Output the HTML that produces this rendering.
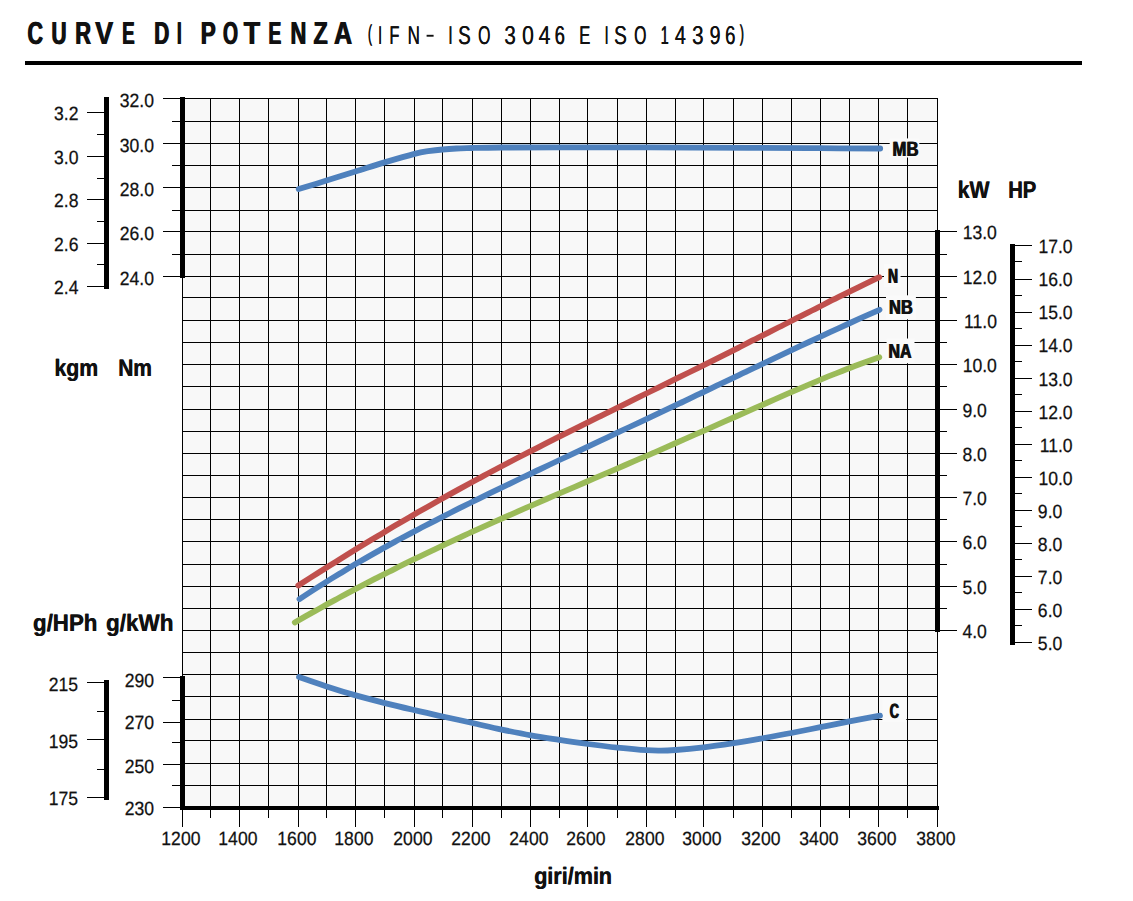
<!DOCTYPE html>
<html><head><meta charset="utf-8"><title>Curve di potenza</title>
<style>
html,body{margin:0;padding:0;background:#fff;}
body{width:1133px;height:901px;overflow:hidden;}
svg{display:block;font-family:"Liberation Sans",sans-serif;}
</style></head><body>
<svg width="1133" height="901" viewBox="0 0 1133 901" text-rendering="geometricPrecision">
<rect x="182" y="98" width="756" height="710" fill="#f8f8f8"/>
<g fill="#000" shape-rendering="crispEdges"><rect x="182" y="98" width="1" height="729"/><rect x="210" y="98" width="1" height="720"/><rect x="239" y="98" width="1" height="729"/><rect x="268" y="98" width="1" height="720"/><rect x="298" y="98" width="1" height="729"/><rect x="326" y="98" width="1" height="720"/><rect x="355" y="98" width="1" height="729"/><rect x="384" y="98" width="1" height="720"/><rect x="414" y="98" width="1" height="729"/><rect x="442" y="98" width="1" height="720"/><rect x="472" y="98" width="1" height="729"/><rect x="501" y="98" width="1" height="720"/><rect x="530" y="98" width="1" height="729"/><rect x="559" y="98" width="1" height="720"/><rect x="587" y="98" width="1" height="729"/><rect x="617" y="98" width="1" height="720"/><rect x="646" y="98" width="1" height="729"/><rect x="675" y="98" width="1" height="720"/><rect x="703" y="98" width="1" height="729"/><rect x="733" y="98" width="1" height="720"/><rect x="762" y="98" width="1" height="729"/><rect x="791" y="98" width="1" height="720"/><rect x="820" y="98" width="1" height="729"/><rect x="849" y="98" width="1" height="720"/><rect x="878" y="98" width="1" height="729"/><rect x="907" y="98" width="1" height="720"/><rect x="937" y="98" width="1" height="729"/><rect x="182" y="98" width="756" height="1"/><rect x="182" y="121" width="756" height="1"/><rect x="182" y="143" width="756" height="1"/><rect x="182" y="165" width="756" height="1"/><rect x="182" y="187" width="756" height="1"/><rect x="182" y="210" width="756" height="1"/><rect x="182" y="231" width="756" height="1"/><rect x="182" y="254" width="756" height="1"/><rect x="182" y="276" width="756" height="1"/><rect x="182" y="297" width="756" height="1"/><rect x="182" y="320" width="756" height="1"/><rect x="182" y="342" width="756" height="1"/><rect x="182" y="364" width="756" height="1"/><rect x="182" y="386" width="756" height="1"/><rect x="182" y="409" width="756" height="1"/><rect x="182" y="431" width="756" height="1"/><rect x="182" y="453" width="756" height="1"/><rect x="182" y="475" width="756" height="1"/><rect x="182" y="497" width="756" height="1"/><rect x="182" y="519" width="756" height="1"/><rect x="182" y="541" width="756" height="1"/><rect x="182" y="564" width="756" height="1"/><rect x="182" y="586" width="756" height="1"/><rect x="182" y="608" width="756" height="1"/><rect x="182" y="630" width="756" height="1"/><rect x="182" y="652" width="756" height="1"/><rect x="182" y="674" width="756" height="1"/><rect x="182" y="696" width="756" height="1"/><rect x="182" y="719" width="756" height="1"/><rect x="182" y="740" width="756" height="1"/><rect x="182" y="763" width="756" height="1"/><rect x="182" y="785" width="756" height="1"/><rect x="182" y="807" width="756" height="1"/><rect x="163" y="98" width="19" height="1"/><rect x="172" y="121" width="10" height="1"/><rect x="163" y="143" width="19" height="1"/><rect x="172" y="165" width="10" height="1"/><rect x="163" y="187" width="19" height="1"/><rect x="172" y="210" width="10" height="1"/><rect x="163" y="231" width="19" height="1"/><rect x="172" y="254" width="10" height="1"/><rect x="163" y="276" width="19" height="1"/><rect x="163" y="677" width="19" height="1"/><rect x="172" y="700" width="10" height="1"/><rect x="163" y="722" width="19" height="1"/><rect x="172" y="742" width="10" height="1"/><rect x="163" y="764" width="19" height="1"/><rect x="172" y="785" width="10" height="1"/><rect x="163" y="807" width="19" height="1"/><rect x="87" y="112" width="19" height="1"/><rect x="97" y="134" width="9" height="1"/><rect x="87" y="156" width="19" height="1"/><rect x="97" y="178" width="9" height="1"/><rect x="87" y="199" width="19" height="1"/><rect x="97" y="221" width="9" height="1"/><rect x="87" y="243" width="19" height="1"/><rect x="97" y="264" width="9" height="1"/><rect x="87" y="286" width="19" height="1"/><rect x="87" y="682" width="19" height="1"/><rect x="97" y="711" width="9" height="1"/><rect x="87" y="739" width="19" height="1"/><rect x="97" y="769" width="9" height="1"/><rect x="87" y="797" width="19" height="1"/><rect x="938" y="231" width="19" height="1"/><rect x="938" y="254" width="9" height="1"/><rect x="938" y="276" width="19" height="1"/><rect x="938" y="297" width="9" height="1"/><rect x="938" y="320" width="19" height="1"/><rect x="938" y="342" width="9" height="1"/><rect x="938" y="364" width="19" height="1"/><rect x="938" y="386" width="9" height="1"/><rect x="938" y="409" width="19" height="1"/><rect x="938" y="431" width="9" height="1"/><rect x="938" y="453" width="19" height="1"/><rect x="938" y="475" width="9" height="1"/><rect x="938" y="497" width="19" height="1"/><rect x="938" y="519" width="9" height="1"/><rect x="938" y="541" width="19" height="1"/><rect x="938" y="564" width="9" height="1"/><rect x="938" y="586" width="19" height="1"/><rect x="938" y="608" width="9" height="1"/><rect x="938" y="630" width="19" height="1"/><rect x="1012" y="245" width="20" height="1"/><rect x="1012" y="261" width="10" height="1"/><rect x="1012" y="279" width="20" height="1"/><rect x="1012" y="295" width="10" height="1"/><rect x="1012" y="312" width="20" height="1"/><rect x="1012" y="328" width="10" height="1"/><rect x="1012" y="345" width="20" height="1"/><rect x="1012" y="361" width="10" height="1"/><rect x="1012" y="378" width="20" height="1"/><rect x="1012" y="394" width="10" height="1"/><rect x="1012" y="411" width="20" height="1"/><rect x="1012" y="427" width="10" height="1"/><rect x="1012" y="444" width="20" height="1"/><rect x="1012" y="460" width="10" height="1"/><rect x="1012" y="477" width="20" height="1"/><rect x="1012" y="493" width="10" height="1"/><rect x="1012" y="510" width="20" height="1"/><rect x="1012" y="526" width="10" height="1"/><rect x="1012" y="543" width="20" height="1"/><rect x="1012" y="559" width="10" height="1"/><rect x="1012" y="576" width="20" height="1"/><rect x="1012" y="592" width="10" height="1"/><rect x="1012" y="609" width="20" height="1"/><rect x="1012" y="625" width="10" height="1"/><rect x="1012" y="642" width="20" height="1"/><rect x="180" y="97" width="5" height="181"/><rect x="180" y="676" width="5" height="134"/><rect x="180" y="806" width="759" height="4"/><rect x="104" y="97" width="5" height="192"/><rect x="104" y="680" width="5" height="120"/><rect x="935" y="230" width="5" height="402"/><rect x="1010" y="244" width="5" height="401"/><rect x="25" y="61" width="1057" height="4"/></g>
<rect x="889.7" y="138.4" width="29.6" height="19.1" fill="#fafafa"/>
<rect x="884" y="264" width="16.6" height="23.0" fill="#fafafa"/>
<rect x="886" y="295.3" width="29.9" height="24.0" fill="#fafafa"/>
<rect x="886.6" y="338.5" width="27.9" height="24.7" fill="#fafafa"/>
<rect x="882.4" y="698" width="23.9" height="24.0" fill="#fafafa"/>
<path d="M298.7 189.1C303.3 187.7 317.1 183.5 326.5 180.6C335.9 177.7 345.7 174.6 355.4 171.6C365.1 168.6 374.6 165.3 384.5 162.4C394.4 159.5 407.2 155.8 414.5 153.9C421.8 152.0 423.4 151.9 428.1 151.2C432.8 150.5 437.8 149.9 442.5 149.5C447.2 149.1 451.5 148.8 456.5 148.5C461.5 148.2 465.1 148.2 472.6 148.0C480.1 147.8 487.0 147.6 501.6 147.5C516.2 147.4 535.3 147.4 560.0 147.4C584.7 147.4 618.3 147.3 650.0 147.4C681.7 147.5 721.7 147.7 750.0 147.8C778.3 147.9 798.3 148.1 820.0 148.2C841.7 148.3 870.2 148.4 880.2 148.5" stroke="#4f81bd" stroke-width="5.8" fill="none" stroke-linecap="round" stroke-linejoin="round"/>
<path d="M298.3 585.5C301.6 583.4 311.6 577.0 318.3 572.7C325.0 568.5 331.6 564.3 338.3 560.2C345.0 556.0 351.6 551.9 358.3 547.8C365.0 543.7 371.6 539.7 378.3 535.7C385.0 531.7 391.6 527.7 398.3 523.8C405.0 519.9 411.6 516.0 418.3 512.1C425.0 508.3 431.6 504.5 438.3 500.7C445.0 497.0 451.6 493.3 458.3 489.6C465.0 485.9 471.6 482.3 478.3 478.7C485.0 475.1 491.6 471.5 498.3 468.0C505.0 464.5 511.6 461.0 518.3 457.5C525.0 454.1 531.6 450.7 538.3 447.3C545.0 443.8 551.6 440.5 558.3 437.1C565.0 433.7 571.6 430.4 578.3 427.1C585.0 423.8 591.6 420.5 598.3 417.2C605.0 413.8 611.6 410.6 618.3 407.3C625.0 404.0 631.6 400.7 638.3 397.4C645.0 394.1 651.6 390.9 658.3 387.6C665.0 384.3 671.6 381.0 678.3 377.7C685.0 374.4 691.6 371.1 698.3 367.8C705.0 364.5 711.6 361.1 718.3 357.8C725.0 354.5 731.6 351.1 738.3 347.8C745.0 344.4 751.6 341.0 758.3 337.7C765.0 334.3 771.6 330.9 778.3 327.5C785.0 324.2 791.6 320.8 798.3 317.4C805.0 314.0 811.6 310.6 818.3 307.3C825.0 303.9 831.6 300.5 838.3 297.2C845.0 293.9 851.5 290.7 858.3 287.3C865.1 284.0 875.8 278.9 879.3 277.2" stroke="#c0504d" stroke-width="5.8" fill="none" stroke-linecap="round" stroke-linejoin="round"/>
<path d="M299.5 599.1C302.8 596.9 312.8 590.3 319.5 586.1C326.2 581.9 332.8 577.8 339.5 573.7C346.2 569.7 352.8 565.7 359.5 561.8C366.2 557.9 372.8 554.1 379.5 550.4C386.2 546.6 392.8 543.0 399.5 539.3C406.2 535.7 412.8 532.2 419.5 528.7C426.2 525.2 432.8 521.7 439.5 518.3C446.2 514.9 452.8 511.6 459.5 508.2C466.2 504.9 472.8 501.6 479.5 498.3C486.2 495.1 492.8 491.8 499.5 488.6C506.2 485.4 512.8 482.2 519.5 479.0C526.2 475.8 532.8 472.6 539.5 469.5C546.2 466.3 552.8 463.2 559.5 460.0C566.2 456.9 572.8 453.7 579.5 450.6C586.2 447.4 592.8 444.3 599.5 441.1C606.2 438.0 612.8 434.9 619.5 431.7C626.2 428.6 632.8 425.4 639.5 422.3C646.2 419.1 652.8 416.0 659.5 412.8C666.2 409.7 672.8 406.5 679.5 403.4C686.2 400.2 692.8 397.0 699.5 393.9C706.2 390.7 712.8 387.5 719.5 384.4C726.2 381.2 732.8 378.0 739.5 374.8C746.2 371.7 752.8 368.5 759.5 365.3C766.2 362.2 772.8 359.0 779.5 355.9C786.2 352.7 792.8 349.6 799.5 346.4C806.2 343.3 812.8 340.2 819.5 337.1C826.2 334.0 832.8 330.9 839.5 327.8C846.2 324.8 852.8 321.7 859.5 318.7C866.2 315.7 876.2 311.3 879.5 309.8" stroke="#4f81bd" stroke-width="5.8" fill="none" stroke-linecap="round" stroke-linejoin="round"/>
<path d="M294.8 622.4C298.1 620.5 308.1 614.8 314.8 611.1C321.5 607.4 328.1 603.7 334.8 600.1C341.5 596.5 348.1 592.9 354.8 589.4C361.5 585.9 368.1 582.4 374.8 578.9C381.5 575.5 388.1 572.1 394.8 568.8C401.5 565.4 408.1 562.1 414.8 558.9C421.5 555.6 428.1 552.4 434.8 549.3C441.5 546.1 448.1 543.0 454.8 539.9C461.5 536.8 468.1 533.7 474.8 530.7C481.5 527.7 488.1 524.7 494.8 521.7C501.5 518.7 508.1 515.8 514.8 512.8C521.5 509.9 528.1 507.0 534.8 504.1C541.5 501.2 548.1 498.3 554.8 495.4C561.5 492.5 568.1 489.7 574.8 486.8C581.5 483.9 588.1 481.1 594.8 478.2C601.5 475.3 608.1 472.5 614.8 469.6C621.5 466.7 628.1 463.8 634.8 460.9C641.5 458.1 648.1 455.2 654.8 452.3C661.5 449.3 668.1 446.4 674.8 443.5C681.5 440.6 688.1 437.7 694.8 434.7C701.5 431.8 708.1 428.8 714.8 425.9C721.5 422.9 728.1 420.0 734.8 417.0C741.5 414.1 748.1 411.1 754.8 408.2C761.5 405.2 768.1 402.3 774.8 399.4C781.5 396.4 788.1 393.5 794.8 390.6C801.5 387.8 808.1 384.9 814.8 382.1C821.5 379.3 828.1 376.5 834.8 373.9C841.5 371.2 847.4 368.8 854.8 366.0C862.2 363.3 875.2 358.7 879.3 357.2" stroke="#9bbb59" stroke-width="5.8" fill="none" stroke-linecap="round" stroke-linejoin="round"/>
<path d="M299.0 677.0C303.6 678.6 317.2 683.3 326.6 686.4C336.1 689.5 346.0 692.6 355.7 695.4C365.4 698.2 375.1 700.6 384.9 703.1C394.7 705.6 404.8 707.9 414.4 710.1C424.0 712.3 433.0 714.4 442.7 716.5C452.4 718.6 462.8 720.8 472.6 723.0C482.4 725.2 492.0 727.6 501.7 729.6C511.4 731.6 521.2 733.6 530.8 735.3C540.4 737.0 549.8 738.4 559.3 739.9C568.8 741.4 578.0 742.7 587.7 744.0C597.4 745.3 607.8 746.6 617.6 747.6C627.4 748.6 639.3 749.7 646.5 750.2C653.7 750.7 656.1 750.6 660.9 750.6C665.7 750.6 668.3 750.5 675.4 750.0C682.5 749.5 693.9 748.5 703.6 747.4C713.3 746.3 723.8 744.7 733.6 743.2C743.4 741.7 752.9 740.0 762.5 738.3C772.1 736.6 781.6 734.9 791.3 733.0C800.9 731.1 810.7 729.1 820.4 727.2C830.1 725.3 839.6 723.3 849.5 721.4C859.4 719.5 874.9 716.7 880.0 715.7" stroke="#4f81bd" stroke-width="5.8" fill="none" stroke-linecap="round" stroke-linejoin="round"/>
<text transform="translate(892.10,155.70) scale(0.8013,1)" font-size="20.78" font-weight="700" fill="#111">MB</text>
<text transform="translate(893.10,155.70) scale(0.8013,1)" font-size="20.78" font-weight="700" fill="#111">MB</text>
<text transform="translate(887.60,282.50) scale(0.6711,1)" font-size="20.64" font-weight="700" fill="#111">N</text>
<text transform="translate(888.60,282.50) scale(0.6711,1)" font-size="20.64" font-weight="700" fill="#111">N</text>
<text transform="translate(888.60,313.60) scale(0.8032,1)" font-size="20.35" font-weight="700" fill="#111">NB</text>
<text transform="translate(889.60,313.60) scale(0.8032,1)" font-size="20.35" font-weight="700" fill="#111">NB</text>
<text transform="translate(887.90,357.70) scale(0.7827,1)" font-size="20.35" font-weight="700" fill="#111">NA</text>
<text transform="translate(888.90,357.70) scale(0.7827,1)" font-size="20.35" font-weight="700" fill="#111">NA</text>
<text transform="translate(889.30,717.50) scale(0.6174,1)" font-size="20.64" font-weight="700" fill="#111">C</text>
<text transform="translate(890.30,717.50) scale(0.6174,1)" font-size="20.64" font-weight="700" fill="#111">C</text>
<text transform="translate(27.10,43.90) scale(0.6744,1)" font-size="31.83" font-weight="700" fill="#111">C</text>
<text transform="translate(28.00,43.90) scale(0.6744,1)" font-size="31.83" font-weight="700" fill="#111">C</text>
<text transform="translate(51.00,43.90) scale(0.6527,1)" font-size="31.83" font-weight="700" fill="#111">U</text>
<text transform="translate(51.90,43.90) scale(0.6527,1)" font-size="31.83" font-weight="700" fill="#111">U</text>
<text transform="translate(74.80,43.90) scale(0.6875,1)" font-size="31.83" font-weight="700" fill="#111">R</text>
<text transform="translate(75.70,43.90) scale(0.6875,1)" font-size="31.83" font-weight="700" fill="#111">R</text>
<text transform="translate(94.70,43.90) scale(0.8525,1)" font-size="31.83" font-weight="700" fill="#111">V</text>
<text transform="translate(95.60,43.90) scale(0.8525,1)" font-size="31.83" font-weight="700" fill="#111">V</text>
<text transform="translate(121.70,43.90) scale(0.5935,1)" font-size="31.83" font-weight="700" fill="#111">E</text>
<text transform="translate(122.60,43.90) scale(0.5935,1)" font-size="31.83" font-weight="700" fill="#111">E</text>
<text transform="translate(153.80,43.90) scale(0.6527,1)" font-size="31.83" font-weight="700" fill="#111">D</text>
<text transform="translate(154.70,43.90) scale(0.6527,1)" font-size="31.83" font-weight="700" fill="#111">D</text>
<text transform="translate(176.42,43.90) scale(0.5500,1)" font-size="31.83" font-weight="700" fill="#111">I</text>
<text transform="translate(177.32,43.90) scale(0.5500,1)" font-size="31.83" font-weight="700" fill="#111">I</text>
<text transform="translate(200.30,43.90) scale(0.7065,1)" font-size="31.83" font-weight="700" fill="#111">P</text>
<text transform="translate(201.20,43.90) scale(0.7065,1)" font-size="31.83" font-weight="700" fill="#111">P</text>
<text transform="translate(222.60,43.90) scale(0.6057,1)" font-size="31.83" font-weight="700" fill="#111">O</text>
<text transform="translate(223.50,43.90) scale(0.6057,1)" font-size="31.83" font-weight="700" fill="#111">O</text>
<text transform="translate(243.20,43.90) scale(0.8535,1)" font-size="31.83" font-weight="700" fill="#111">T</text>
<text transform="translate(244.10,43.90) scale(0.8535,1)" font-size="31.83" font-weight="700" fill="#111">T</text>
<text transform="translate(267.90,43.90) scale(0.6123,1)" font-size="31.83" font-weight="700" fill="#111">E</text>
<text transform="translate(268.80,43.90) scale(0.6123,1)" font-size="31.83" font-weight="700" fill="#111">E</text>
<text transform="translate(290.10,43.90) scale(0.6875,1)" font-size="31.83" font-weight="700" fill="#111">N</text>
<text transform="translate(291.00,43.90) scale(0.6875,1)" font-size="31.83" font-weight="700" fill="#111">N</text>
<text transform="translate(313.10,43.90) scale(0.7301,1)" font-size="31.83" font-weight="700" fill="#111">Z</text>
<text transform="translate(314.00,43.90) scale(0.7301,1)" font-size="31.83" font-weight="700" fill="#111">Z</text>
<text transform="translate(333.60,43.90) scale(0.7876,1)" font-size="31.83" font-weight="700" fill="#111">A</text>
<text transform="translate(334.50,43.90) scale(0.7876,1)" font-size="31.83" font-weight="700" fill="#111">A</text>
<text transform="translate(367.74,40.92) scale(0.5500,1)" font-size="23.07" font-weight="400" fill="#111">(</text>
<text transform="translate(368.04,40.92) scale(0.5500,1)" font-size="23.07" font-weight="400" fill="#111">(</text>
<text transform="translate(377.97,43.90) scale(0.5500,1)" font-size="25.87" font-weight="400" fill="#111">I</text>
<text transform="translate(378.27,43.90) scale(0.5500,1)" font-size="25.87" font-weight="400" fill="#111">I</text>
<text transform="translate(389.20,43.90) scale(0.6389,1)" font-size="25.87" font-weight="400" fill="#111">F</text>
<text transform="translate(389.50,43.90) scale(0.6389,1)" font-size="25.87" font-weight="400" fill="#111">F</text>
<text transform="translate(407.40,43.90) scale(0.6585,1)" font-size="25.87" font-weight="400" fill="#111">N</text>
<text transform="translate(407.70,43.90) scale(0.6585,1)" font-size="25.87" font-weight="400" fill="#111">N</text>
<text transform="translate(448.37,43.90) scale(0.5500,1)" font-size="25.87" font-weight="400" fill="#111">I</text>
<text transform="translate(448.67,43.90) scale(0.5500,1)" font-size="25.87" font-weight="400" fill="#111">I</text>
<text transform="translate(458.10,43.90) scale(0.7186,1)" font-size="25.87" font-weight="400" fill="#111">S</text>
<text transform="translate(458.40,43.90) scale(0.7186,1)" font-size="25.87" font-weight="400" fill="#111">S</text>
<text transform="translate(478.00,43.90) scale(0.6111,1)" font-size="25.87" font-weight="400" fill="#111">O</text>
<text transform="translate(478.30,43.90) scale(0.6111,1)" font-size="25.87" font-weight="400" fill="#111">O</text>
<text transform="translate(504.30,43.90) scale(0.7925,1)" font-size="25.87" font-weight="400" fill="#111">3</text>
<text transform="translate(504.60,43.90) scale(0.7925,1)" font-size="25.87" font-weight="400" fill="#111">3</text>
<text transform="translate(522.00,43.90) scale(0.8134,1)" font-size="25.87" font-weight="400" fill="#111">0</text>
<text transform="translate(522.30,43.90) scale(0.8134,1)" font-size="25.87" font-weight="400" fill="#111">0</text>
<text transform="translate(538.40,43.90) scale(0.8203,1)" font-size="25.87" font-weight="400" fill="#111">4</text>
<text transform="translate(538.70,43.90) scale(0.8203,1)" font-size="25.87" font-weight="400" fill="#111">4</text>
<text transform="translate(554.60,43.90) scale(0.7021,1)" font-size="25.87" font-weight="400" fill="#111">6</text>
<text transform="translate(554.90,43.90) scale(0.7021,1)" font-size="25.87" font-weight="400" fill="#111">6</text>
<text transform="translate(579.10,43.90) scale(0.6374,1)" font-size="25.87" font-weight="400" fill="#111">E</text>
<text transform="translate(579.40,43.90) scale(0.6374,1)" font-size="25.87" font-weight="400" fill="#111">E</text>
<text transform="translate(604.42,43.90) scale(0.5500,1)" font-size="25.87" font-weight="400" fill="#111">I</text>
<text transform="translate(604.72,43.90) scale(0.5500,1)" font-size="25.87" font-weight="400" fill="#111">I</text>
<text transform="translate(614.00,43.90) scale(0.7359,1)" font-size="25.87" font-weight="400" fill="#111">S</text>
<text transform="translate(614.30,43.90) scale(0.7359,1)" font-size="25.87" font-weight="400" fill="#111">S</text>
<text transform="translate(634.10,43.90) scale(0.6011,1)" font-size="25.87" font-weight="400" fill="#111">O</text>
<text transform="translate(634.40,43.90) scale(0.6011,1)" font-size="25.87" font-weight="400" fill="#111">O</text>
<text transform="translate(660.59,43.90) scale(0.5500,1)" font-size="25.87" font-weight="400" fill="#111">1</text>
<text transform="translate(660.89,43.90) scale(0.5500,1)" font-size="25.87" font-weight="400" fill="#111">1</text>
<text transform="translate(674.70,43.90) scale(0.7647,1)" font-size="25.87" font-weight="400" fill="#111">4</text>
<text transform="translate(675.00,43.90) scale(0.7647,1)" font-size="25.87" font-weight="400" fill="#111">4</text>
<text transform="translate(692.00,43.90) scale(0.7925,1)" font-size="25.87" font-weight="400" fill="#111">3</text>
<text transform="translate(692.30,43.90) scale(0.7925,1)" font-size="25.87" font-weight="400" fill="#111">3</text>
<text transform="translate(709.40,43.90) scale(0.7577,1)" font-size="25.87" font-weight="400" fill="#111">9</text>
<text transform="translate(709.70,43.90) scale(0.7577,1)" font-size="25.87" font-weight="400" fill="#111">9</text>
<text transform="translate(724.90,43.90) scale(0.7160,1)" font-size="25.87" font-weight="400" fill="#111">6</text>
<text transform="translate(725.20,43.90) scale(0.7160,1)" font-size="25.87" font-weight="400" fill="#111">6</text>
<text transform="translate(739.59,40.92) scale(0.5500,1)" font-size="23.07" font-weight="400" fill="#111">)</text>
<text transform="translate(739.89,40.92) scale(0.5500,1)" font-size="23.07" font-weight="400" fill="#111">)</text>
<rect x="426.6" y="34.8" width="7" height="1.9" fill="#111"/>
<text transform="translate(957.50,197.60) scale(0.8787,1)" font-size="24.13" font-weight="700" fill="#111">kW</text>
<text transform="translate(958.00,197.60) scale(0.8787,1)" font-size="24.13" font-weight="700" fill="#111">kW</text>
<text transform="translate(1008.00,197.60) scale(0.8385,1)" font-size="24.13" font-weight="700" fill="#111">HP</text>
<text transform="translate(1008.50,197.60) scale(0.8385,1)" font-size="24.13" font-weight="700" fill="#111">HP</text>
<text transform="translate(54.30,375.60) scale(0.8863,1)" font-size="23.98" font-weight="700" fill="#111">kgm</text>
<text transform="translate(54.80,375.60) scale(0.8863,1)" font-size="23.98" font-weight="700" fill="#111">kgm</text>
<text transform="translate(117.90,375.60) scale(0.8748,1)" font-size="23.98" font-weight="700" fill="#111">Nm</text>
<text transform="translate(118.40,375.60) scale(0.8748,1)" font-size="23.98" font-weight="700" fill="#111">Nm</text>
<text transform="translate(32.80,631.00) scale(0.9295,1)" font-size="23.98" font-weight="700" fill="#111">g/HPh</text>
<text transform="translate(33.30,631.00) scale(0.9295,1)" font-size="23.98" font-weight="700" fill="#111">g/HPh</text>
<text transform="translate(105.80,631.00) scale(0.9382,1)" font-size="23.98" font-weight="700" fill="#111">g/kWh</text>
<text transform="translate(106.30,631.00) scale(0.9382,1)" font-size="23.98" font-weight="700" fill="#111">g/kWh</text>
<text transform="translate(533.90,884.30) scale(0.9106,1)" font-size="23.69" font-weight="700" fill="#111">giri/min</text>
<text transform="translate(534.40,884.30) scale(0.9106,1)" font-size="23.69" font-weight="700" fill="#111">giri/min</text>
<text transform="translate(119.80,106.90) scale(0.9200,1)" font-size="19.10" font-weight="400" fill="#111" stroke="#111" stroke-width="0.25">32.0</text>
<text transform="translate(119.80,151.90) scale(0.9200,1)" font-size="19.10" font-weight="400" fill="#111" stroke="#111" stroke-width="0.25">30.0</text>
<text transform="translate(119.80,195.90) scale(0.9200,1)" font-size="19.10" font-weight="400" fill="#111" stroke="#111" stroke-width="0.25">28.0</text>
<text transform="translate(119.80,239.90) scale(0.9200,1)" font-size="19.10" font-weight="400" fill="#111" stroke="#111" stroke-width="0.25">26.0</text>
<text transform="translate(119.80,284.90) scale(0.9200,1)" font-size="19.10" font-weight="400" fill="#111" stroke="#111" stroke-width="0.25">24.0</text>
<text transform="translate(54.10,120.40) scale(0.9200,1)" font-size="19.10" font-weight="400" fill="#111" stroke="#111" stroke-width="0.25">3.2</text>
<text transform="translate(54.10,163.90) scale(0.9200,1)" font-size="19.10" font-weight="400" fill="#111" stroke="#111" stroke-width="0.25">3.0</text>
<text transform="translate(54.10,207.40) scale(0.9200,1)" font-size="19.10" font-weight="400" fill="#111" stroke="#111" stroke-width="0.25">2.8</text>
<text transform="translate(54.10,250.90) scale(0.9200,1)" font-size="19.10" font-weight="400" fill="#111" stroke="#111" stroke-width="0.25">2.6</text>
<text transform="translate(54.10,294.40) scale(0.9200,1)" font-size="19.10" font-weight="400" fill="#111" stroke="#111" stroke-width="0.25">2.4</text>
<text transform="translate(48.80,690.60) scale(0.9200,1)" font-size="19.10" font-weight="400" fill="#111" stroke="#111" stroke-width="0.25">215</text>
<text transform="translate(48.80,747.60) scale(0.9200,1)" font-size="19.10" font-weight="400" fill="#111" stroke="#111" stroke-width="0.25">195</text>
<text transform="translate(48.80,805.10) scale(0.9200,1)" font-size="19.10" font-weight="400" fill="#111" stroke="#111" stroke-width="0.25">175</text>
<text transform="translate(124.70,686.60) scale(0.9200,1)" font-size="19.10" font-weight="400" fill="#111" stroke="#111" stroke-width="0.25">290</text>
<text transform="translate(124.70,729.00) scale(0.9200,1)" font-size="19.10" font-weight="400" fill="#111" stroke="#111" stroke-width="0.25">270</text>
<text transform="translate(124.70,773.00) scale(0.9200,1)" font-size="19.10" font-weight="400" fill="#111" stroke="#111" stroke-width="0.25">250</text>
<text transform="translate(124.70,815.00) scale(0.9200,1)" font-size="19.10" font-weight="400" fill="#111" stroke="#111" stroke-width="0.25">230</text>
<text transform="translate(962.70,239.10) scale(0.9200,1)" font-size="19.10" font-weight="400" fill="#111" stroke="#111" stroke-width="0.25">13.0</text>
<text transform="translate(962.70,284.10) scale(0.9200,1)" font-size="19.10" font-weight="400" fill="#111" stroke="#111" stroke-width="0.25">12.0</text>
<text transform="translate(964.01,328.10) scale(0.9200,1)" font-size="19.10" font-weight="400" fill="#111" stroke="#111" stroke-width="0.25">11.0</text>
<text transform="translate(962.70,372.10) scale(0.9200,1)" font-size="19.10" font-weight="400" fill="#111" stroke="#111" stroke-width="0.25">10.0</text>
<text transform="translate(962.47,417.10) scale(0.9200,1)" font-size="19.10" font-weight="400" fill="#111" stroke="#111" stroke-width="0.25">9.0</text>
<text transform="translate(962.47,461.10) scale(0.9200,1)" font-size="19.10" font-weight="400" fill="#111" stroke="#111" stroke-width="0.25">8.0</text>
<text transform="translate(962.47,505.10) scale(0.9200,1)" font-size="19.10" font-weight="400" fill="#111" stroke="#111" stroke-width="0.25">7.0</text>
<text transform="translate(962.47,549.10) scale(0.9200,1)" font-size="19.10" font-weight="400" fill="#111" stroke="#111" stroke-width="0.25">6.0</text>
<text transform="translate(962.47,594.10) scale(0.9200,1)" font-size="19.10" font-weight="400" fill="#111" stroke="#111" stroke-width="0.25">5.0</text>
<text transform="translate(962.47,638.10) scale(0.9200,1)" font-size="19.10" font-weight="400" fill="#111" stroke="#111" stroke-width="0.25">4.0</text>
<text transform="translate(1038.40,253.20) scale(0.9200,1)" font-size="19.10" font-weight="400" fill="#111" stroke="#111" stroke-width="0.25">17.0</text>
<text transform="translate(1038.40,286.28) scale(0.9200,1)" font-size="19.10" font-weight="400" fill="#111" stroke="#111" stroke-width="0.25">16.0</text>
<text transform="translate(1038.40,319.37) scale(0.9200,1)" font-size="19.10" font-weight="400" fill="#111" stroke="#111" stroke-width="0.25">15.0</text>
<text transform="translate(1038.40,352.45) scale(0.9200,1)" font-size="19.10" font-weight="400" fill="#111" stroke="#111" stroke-width="0.25">14.0</text>
<text transform="translate(1038.40,385.53) scale(0.9200,1)" font-size="19.10" font-weight="400" fill="#111" stroke="#111" stroke-width="0.25">13.0</text>
<text transform="translate(1038.40,418.62) scale(0.9200,1)" font-size="19.10" font-weight="400" fill="#111" stroke="#111" stroke-width="0.25">12.0</text>
<text transform="translate(1039.71,451.70) scale(0.9200,1)" font-size="19.10" font-weight="400" fill="#111" stroke="#111" stroke-width="0.25">11.0</text>
<text transform="translate(1038.40,484.78) scale(0.9200,1)" font-size="19.10" font-weight="400" fill="#111" stroke="#111" stroke-width="0.25">10.0</text>
<text transform="translate(1037.87,517.87) scale(0.9200,1)" font-size="19.10" font-weight="400" fill="#111" stroke="#111" stroke-width="0.25">9.0</text>
<text transform="translate(1037.87,550.95) scale(0.9200,1)" font-size="19.10" font-weight="400" fill="#111" stroke="#111" stroke-width="0.25">8.0</text>
<text transform="translate(1037.87,584.03) scale(0.9200,1)" font-size="19.10" font-weight="400" fill="#111" stroke="#111" stroke-width="0.25">7.0</text>
<text transform="translate(1037.87,617.12) scale(0.9200,1)" font-size="19.10" font-weight="400" fill="#111" stroke="#111" stroke-width="0.25">6.0</text>
<text transform="translate(1037.87,650.20) scale(0.9200,1)" font-size="19.10" font-weight="400" fill="#111" stroke="#111" stroke-width="0.25">5.0</text>
<text transform="translate(161.35,845.20) scale(0.9200,1)" font-size="19.10" font-weight="400" fill="#111" stroke="#111" stroke-width="0.25">1200</text>
<text transform="translate(218.35,845.20) scale(0.9200,1)" font-size="19.10" font-weight="400" fill="#111" stroke="#111" stroke-width="0.25">1400</text>
<text transform="translate(277.35,845.20) scale(0.9200,1)" font-size="19.10" font-weight="400" fill="#111" stroke="#111" stroke-width="0.25">1600</text>
<text transform="translate(334.35,845.20) scale(0.9200,1)" font-size="19.10" font-weight="400" fill="#111" stroke="#111" stroke-width="0.25">1800</text>
<text transform="translate(393.35,845.20) scale(0.9200,1)" font-size="19.10" font-weight="400" fill="#111" stroke="#111" stroke-width="0.25">2000</text>
<text transform="translate(451.35,845.20) scale(0.9200,1)" font-size="19.10" font-weight="400" fill="#111" stroke="#111" stroke-width="0.25">2200</text>
<text transform="translate(509.35,845.20) scale(0.9200,1)" font-size="19.10" font-weight="400" fill="#111" stroke="#111" stroke-width="0.25">2400</text>
<text transform="translate(566.35,845.20) scale(0.9200,1)" font-size="19.10" font-weight="400" fill="#111" stroke="#111" stroke-width="0.25">2600</text>
<text transform="translate(625.35,845.20) scale(0.9200,1)" font-size="19.10" font-weight="400" fill="#111" stroke="#111" stroke-width="0.25">2800</text>
<text transform="translate(682.35,845.20) scale(0.9200,1)" font-size="19.10" font-weight="400" fill="#111" stroke="#111" stroke-width="0.25">3000</text>
<text transform="translate(741.35,845.20) scale(0.9200,1)" font-size="19.10" font-weight="400" fill="#111" stroke="#111" stroke-width="0.25">3200</text>
<text transform="translate(799.35,845.20) scale(0.9200,1)" font-size="19.10" font-weight="400" fill="#111" stroke="#111" stroke-width="0.25">3400</text>
<text transform="translate(857.35,845.20) scale(0.9200,1)" font-size="19.10" font-weight="400" fill="#111" stroke="#111" stroke-width="0.25">3600</text>
<text transform="translate(916.35,845.20) scale(0.9200,1)" font-size="19.10" font-weight="400" fill="#111" stroke="#111" stroke-width="0.25">3800</text>
</svg>
</body></html>
